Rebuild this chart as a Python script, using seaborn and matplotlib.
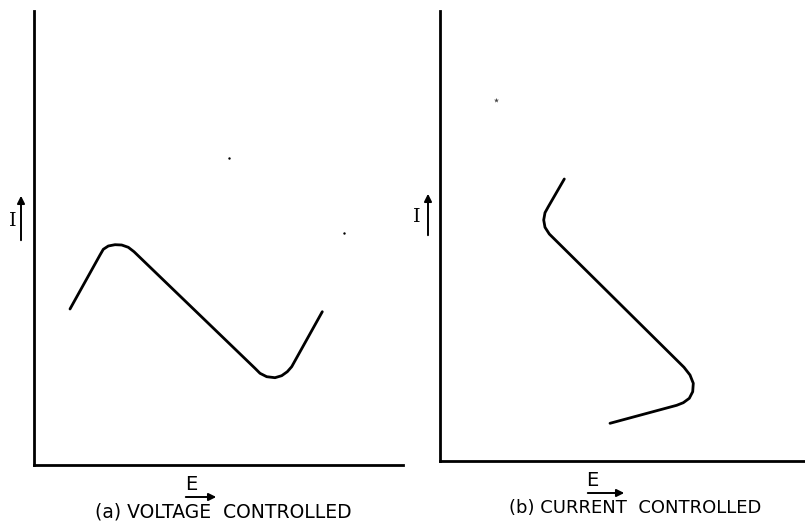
"""
Negative-resistance characteristics: voltage controlled vs current controlled.
Two sketch panels, I against E, drawn with seaborn line plots.
"""

import matplotlib
matplotlib.use("Agg")
import matplotlib.pyplot as plt
import seaborn as sns

# ──────────────────────────────────────────────
# Data (E, I in arbitrary units)
# ──────────────────────────────────────────────
E_VOLTAGE = [36, 66, 69.3, 74.3, 81, 87.7, 94.3, 100, 221, 226, 232.7, 241,
             247.7, 253.3, 257.7, 288.3]
I_VOLTAGE = [156, 210, 215.7, 219, 220.3, 220, 217.7, 213.3, 96.7, 91.7, 88.3,
             87.3, 89.3, 93.3, 98.3, 153.3]

E_CURRENT = [124.3, 108.3, 105, 103.7, 105, 109.3, 244, 250, 253.3, 252.7,
             249.3, 243.3, 236.7, 170]
I_CURRENT = [282, 254.3, 248.3, 241, 233.7, 227, 93.7, 86, 77.7, 69.3, 62.7,
             58.3, 55.7, 37.7]

# scan specks on the original print
SPECK_E_A = [195, 310]
SPECK_I_A = [307, 232]
SPECK_E_B = [56]
SPECK_I_B = [361]

XLIM_A, YLIM_A = (0, 369), (0, 454)
XLIM_B, YLIM_B = (0, 365), (0, 450)

CAPTION_A = "(a) VOLTAGE  CONTROLLED"
CAPTION_B = "(b) CURRENT  CONTROLLED"
AXIS_E = "E"
AXIS_I = "I"


def style_axes(ax, xlim, ylim):
    """Keep just the left and bottom spines, no ticks."""
    ax.set_xlim(*xlim)
    ax.set_ylim(*ylim)
    ax.set_xticks([])
    ax.set_yticks([])
    ax.set_xlabel("")
    ax.set_ylabel("")
    for side in ["top", "right"]:
        ax.spines[side].set_visible(False)
    for side in ["left", "bottom"]:
        ax.spines[side].set_color("black")
        ax.spines[side].set_linewidth(2)
    ax.set_facecolor("white")


def arrow(fig, start, end):
    fig.add_artist(matplotlib.patches.FancyArrowPatch(
        start, end, transform=None, arrowstyle="-|>", mutation_scale=11,
        color="black", linewidth=1.4))


def main():
    sns.set_style("white")
    plt.rcParams["font.family"] = ["DejaVu Sans"]
    plt.rcParams["text.color"] = "black"

    W, H = 805, 526
    fig = plt.figure(figsize=(W / 100, H / 100), dpi=100)
    fig.patch.set_facecolor("white")

    ax_a = fig.add_axes([34 / W, (H - 465) / H, 369 / W, 454 / H])
    ax_b = fig.add_axes([440 / W, (H - 461) / H, 365 / W, 450 / H])

    sns.lineplot(x=E_VOLTAGE, y=I_VOLTAGE, sort=False, estimator=None,
                 color="black", linewidth=2, ax=ax_a)
    sns.lineplot(x=E_CURRENT, y=I_CURRENT, sort=False, estimator=None,
                 color="black", linewidth=2, ax=ax_b)

    ax_a.scatter(SPECK_E_A, SPECK_I_A, s=3, color="black", linewidths=0)
    ax_b.scatter(SPECK_E_B, SPECK_I_B, s=14, color="#444444", marker="*",
                 linewidths=0)

    style_axes(ax_a, XLIM_A, YLIM_A)
    style_axes(ax_b, XLIM_B, YLIM_B)

    # axis letters and direction arrows (figure pixel coords, origin bottom-left)
    txt = dict(transform=None, color="black", ha="center", va="center")
    fig.text(13, 305, AXIS_I, fontsize=14, family="DejaVu Serif", **txt)
    fig.text(417, 309, AXIS_I, fontsize=14, family="DejaVu Serif", **txt)
    arrow(fig, (21, 283), (21, 333))
    arrow(fig, (428, 288), (428, 335))

    fig.text(191, 42, AXIS_E, fontsize=14, **txt)
    fig.text(592, 46, AXIS_E, fontsize=14, **txt)
    arrow(fig, (183, 29), (219, 29))
    arrow(fig, (585, 33), (627, 33))

    fig.text(223, 14, CAPTION_A, fontsize=13.5, **txt)
    fig.text(635, 18, CAPTION_B, fontsize=13, **txt)

    fig.savefig("out.png", dpi=100, facecolor="white")
    plt.close(fig)


if __name__ == "__main__":
    main()
